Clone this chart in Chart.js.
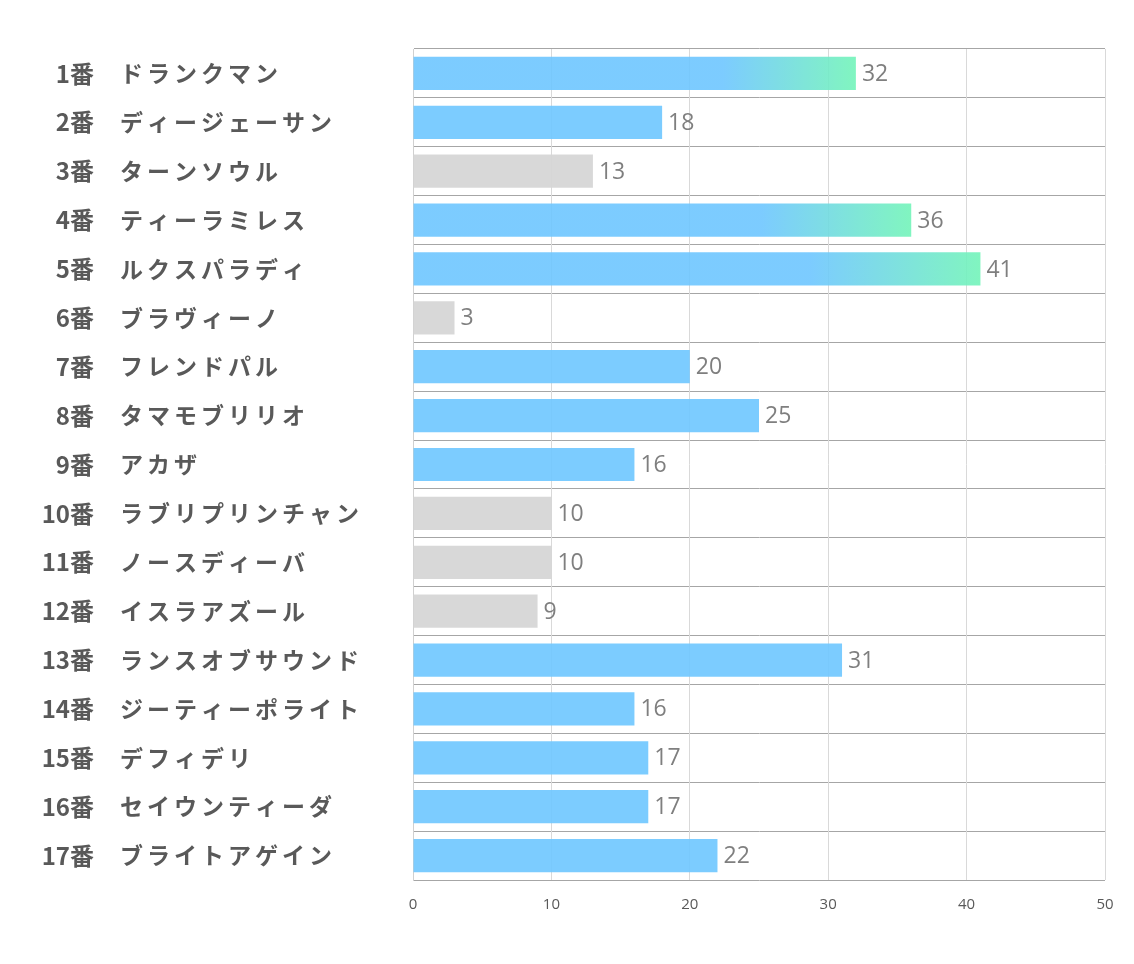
<!DOCTYPE html>
<html>
<head>
<meta charset="UTF-8">
<title>出走馬チャート</title>
<script src="https://cdn.jsdelivr.net/npm/chart.js"></script>
<style>
  * { margin: 0; padding: 0; box-sizing: border-box; }
  body { background: #fff; }
  .wrap { width: 1134px; height: 964px; position: relative; }
</style>
</head>
<body>
<div class="wrap"><canvas id="chart"></canvas></div>
<script>
// 馬番・馬名・値
const numbers = ["1番","2番","3番","4番","5番","6番","7番","8番","9番","10番","11番","12番","13番","14番","15番","16番","17番"];
const names = ["ドランクマン","ディージェーサン","ターンソウル","ティーラミレス","ルクスパラディ","ブラヴィーノ","フレンドパル","タマモブリリオ","アカザ","ラブリプリンチャン","ノースディーバ","イスラアズール","ランスオブサウンド","ジーティーポライト","デフィデリ","セイウンティーダ","ブライトアゲイン"];
const values = [32, 18, 13, 36, 41, 3, 20, 25, 16, 10, 10, 9, 31, 16, 17, 17, 22];
// 0 = 灰, 1 = 青, 2 = 青→緑グラデーション
const kinds = [2, 1, 0, 2, 2, 0, 1, 1, 1, 0, 0, 0, 1, 1, 1, 1, 1];
const xTicks = [0, 10, 20, 30, 40, 50];

const BLUE = "rgba(110, 198, 255, 0.9)";
const GREEN = "rgba(115, 244, 185, 0.9)";
const GREY = "rgba(214, 214, 214, 0.95)";

function barColor(ctx) {
  const k = kinds[ctx.dataIndex];
  if (k === 0) return GREY;
  if (k === 1) return BLUE;
  const chart = ctx.chart;
  const xs = chart.scales.x;
  if (!chart.chartArea || !xs) return BLUE;
  const x0 = xs.getPixelForValue(0);
  const x1 = xs.getPixelForValue(values[ctx.dataIndex]);
  const g = chart.ctx.createLinearGradient(x0, 0, x1, 0);
  g.addColorStop(0, BLUE);
  g.addColorStop(0.7, BLUE);
  g.addColorStop(1, GREEN);
  return g;
}

// 左の馬名と棒の右の数値を描く
const labelPlugin = {
  id: "labels",
  afterDraw(chart) {
    const c = chart.ctx;
    const ys = chart.scales.y;
    c.save();
    c.textBaseline = "middle";
    c.fillStyle = "#595959";
    numbers.forEach((n, i) => {
      const y = ys.getPixelForValue(i);
      c.font = "bold 24px 'Noto Sans CJK JP'";
      c.textAlign = "right";
      c.letterSpacing = "0px";
      c.fillText(n, 94, y);
      c.font = "bold 23px 'Noto Sans CJK JP'";
      c.textAlign = "left";
      c.letterSpacing = "4px";
      c.fillText(names[i], 120, y);
    });
    c.letterSpacing = "0px";
    c.font = "23px 'Open Sans'";
    c.fillStyle = "#7f7f7f";
    c.textAlign = "left";
    chart.getDatasetMeta(0).data.forEach((bar, i) => {
      c.fillText(String(values[i]), bar.x + 6, bar.y + 1);
    });
    c.restore();
  }
};

new Chart(document.getElementById("chart"), {
  type: "bar",
  data: {
    labels: numbers,
    datasets: [{
      data: values,
      backgroundColor: barColor,
      borderWidth: 0,
      barPercentage: 0.68,
      categoryPercentage: 1
    }]
  },
  options: {
    indexAxis: "y",
    responsive: true,
    maintainAspectRatio: false,
    animation: false,
    layout: { padding: { left: 0, top: 49, right: 29, bottom: 34 } },
    plugins: { legend: { display: false }, tooltip: { enabled: false } },
    scales: {
      y: {
        afterFit: (s) => { s.width = 413; },
        ticks: { display: false },
        grid: { color: "#a6a6a6", drawTicks: false },
        border: { display: true, color: "#d0d0d0" }
      },
      x: {
        min: 0,
        max: 50,
        afterBuildTicks: (s) => { s.ticks = xTicks.map((v) => ({ value: v })); },
        ticks: { color: "#595959", font: { size: 15, family: "'Open Sans'" }, padding: 16 },
        grid: { color: "#d9d9d9", drawTicks: false },
        border: { display: false }
      }
    }
  },
  plugins: [labelPlugin]
});
</script>
</body>
</html>
